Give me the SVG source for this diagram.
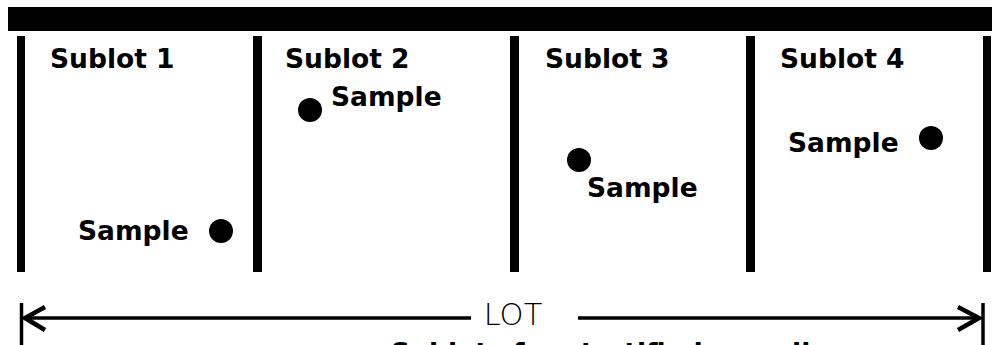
<svg xmlns="http://www.w3.org/2000/svg" width="992" height="345" viewBox="0 0 992 345">
<defs>
<style>
.bar{fill:#000}
.lbl{font-family:"DejaVu Sans","Verdana",sans-serif;font-weight:bold;font-size:26.5px;fill:#000}
.lot{font-family:"DejaVu Sans","Liberation Sans",sans-serif;font-weight:200;font-size:30.5px;fill:#000}
.dot{fill:#000}
.ln{stroke:#000;stroke-width:3.5;fill:none}
.head{stroke:#000;stroke-width:4.5;fill:none;stroke-linejoin:miter}
</style>
</defs>
<rect width="992" height="345" fill="#fff"/>
<g id="lot-frame">
<rect class="bar" x="8" y="7" width="984" height="24"/>
<rect class="bar" x="17" y="36" width="8" height="236"/>
<rect class="bar" x="253" y="36" width="9" height="236"/>
<rect class="bar" x="510" y="36" width="9" height="236"/>
<rect class="bar" x="746" y="36" width="9" height="236"/>
<rect class="bar" x="983" y="36" width="8" height="236"/>
</g>
<g id="sublot1">
<text class="lbl" x="50" y="68">Sublot 1</text>
<text class="lbl" x="78" y="240">Sample</text>
<circle class="dot" cx="221" cy="231" r="12"/>
</g>
<g id="sublot2">
<text class="lbl" x="285" y="68">Sublot 2</text>
<circle class="dot" cx="310" cy="110" r="12"/>
<text class="lbl" x="331" y="106">Sample</text>
</g>
<g id="sublot3">
<text class="lbl" x="545" y="68">Sublot 3</text>
<circle class="dot" cx="579" cy="160" r="12"/>
<text class="lbl" x="587" y="197">Sample</text>
</g>
<g id="sublot4">
<text class="lbl" x="780" y="68">Sublot 4</text>
<text class="lbl" x="788" y="152">Sample</text>
<circle class="dot" cx="931" cy="138" r="12"/>
</g>
<g id="connectors">
<line class="ln" x1="21.5" y1="303" x2="21.5" y2="345"/>
<line class="ln" x1="983" y1="303" x2="983" y2="345"/>
<line class="ln" x1="24" y1="318" x2="471" y2="318"/>
<line class="ln" x1="578" y1="318" x2="980" y2="318"/>
<polyline class="head" points="45,307 25,318 45,330"/>
<polyline class="head" points="958,307 979,318 958,330"/>
</g>
<g id="lot-label">
<text class="lot" x="513" y="325" text-anchor="middle">LOT</text>
</g>
<g id="caption">
<text class="lbl" x="391" y="362">Sublots for stratified sampling</text>
</g>
</svg>
